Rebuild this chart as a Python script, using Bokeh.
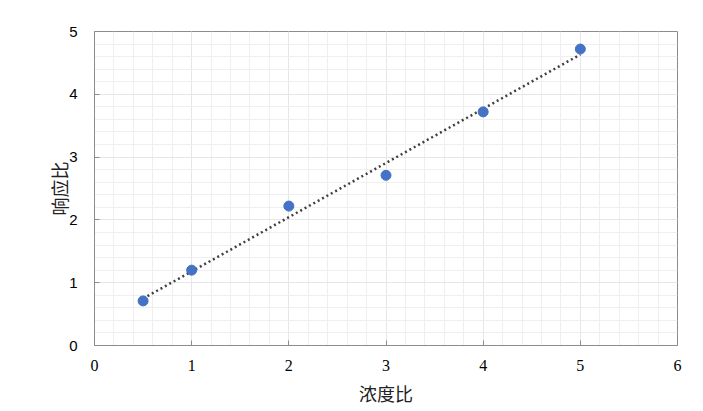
import numpy as np
from bokeh.plotting import figure
from bokeh.models import ColumnDataSource, Range1d, FixedTicker
from bokeh.embed import file_html
from bokeh.resources import INLINE

# data
conc_ratio = [0.5, 1, 2, 3, 4, 5]
resp_ratio = [0.71, 1.20, 2.22, 2.71, 3.72, 4.72]
x_ticks = [0, 1, 2, 3, 4, 5, 6]
y_ticks = [0, 1, 2, 3, 4, 5]
x_label = "浓度比"
y_label = "响应比"

slope, intercept = np.polyfit(conc_ratio, resp_ratio, 1)
trend_x = [min(conc_ratio), max(conc_ratio)]
trend_y = [slope * v + intercept for v in trend_x]

W, H = 700, 408
p = figure(width=W, height=H, output_backend="svg", toolbar_location=None,
           x_range=Range1d(0, 6), y_range=Range1d(0, 5),
           min_border_left=94, min_border_right=W - 677, min_border_top=31,
           min_border_bottom=H - 348)

p.outline_line_color = "#8c8c8c"
p.outline_line_width = 1

for ax in (p.xaxis[0], p.yaxis[0]):
    ax.axis_line_color = "#8c8c8c"
    ax.major_tick_line_color = "#8c8c8c"
    ax.major_tick_in = 5
    ax.major_tick_out = 0
    ax.minor_tick_line_color = None
    ax.major_label_text_font_size = "16px"
    ax.major_label_text_color = "#000000"
    ax.axis_label_text_font = "Noto Sans CJK SC"
    ax.axis_label_text_font_size = "18px"
    ax.axis_label_text_font_style = "normal"
    ax.axis_label_text_color = "#222222"

p.xaxis.major_label_text_font = "Liberation Serif"
p.yaxis.major_label_text_font = "Liberation Sans"
p.yaxis.major_label_text_font_size = "15px"

p.xaxis.ticker = FixedTicker(ticks=x_ticks, minor_ticks=list(np.round(np.arange(0, 6.01, 0.2), 2)))
p.yaxis.ticker = FixedTicker(ticks=y_ticks, minor_ticks=list(np.round(np.arange(0, 5.01, 0.2), 2)))
p.xaxis.axis_label = x_label
p.yaxis.axis_label = y_label
p.xaxis.major_label_standoff = 10
p.xaxis.axis_label_standoff = 6
p.yaxis.major_label_standoff = 13
p.yaxis.axis_label_standoff = -6

for g in (p.xgrid[0], p.ygrid[0]):
    g.grid_line_color = "#e6e6e6"
    g.grid_line_width = 1
    g.minor_grid_line_color = "#efefef"
    g.minor_grid_line_width = 1

p.line(trend_x, trend_y, line_color="#404040", line_width=2.5, line_dash="2 3")

src = ColumnDataSource(data=dict(x=conc_ratio, y=resp_ratio))
p.scatter("x", "y", source=src, size=10, fill_color="#4472C4", line_color="#4472C4")

open("out.html", "w").write(file_html(p, INLINE))
